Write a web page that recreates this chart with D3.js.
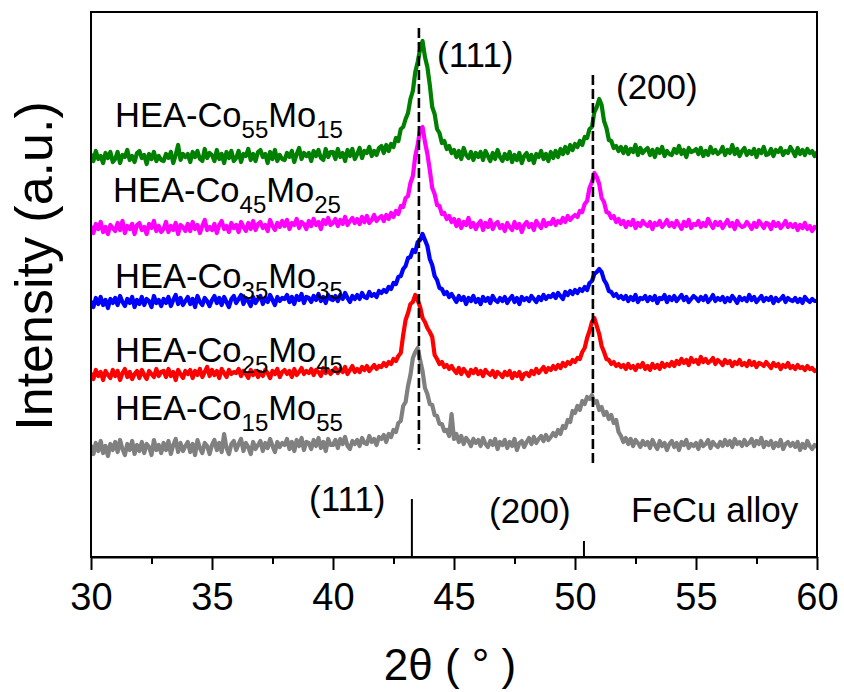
<!DOCTYPE html>
<html>
<head>
<meta charset="utf-8">
<script src="https://cdn.jsdelivr.net/npm/d3@7"></script>
<style>
  body { margin: 0; background: #fff; }
  text { font-family: "Liberation Sans", Arial, sans-serif; fill: #000; }
</style>
</head>
<body>
<div class="canvas"></div>
<script>
// scan grid (2theta, degrees)
const scanStart = 30
const scanStep = 0.1

// sample names (Co / Mo subscripts)
const samples = ['HEA-Co55Mo15', 'HEA-Co45Mo25', 'HEA-Co35Mo35', 'HEA-Co25Mo45', 'HEA-Co15Mo55']
const coSub = ['55', '45', '35', '25', '15']
const moSub = ['15', '25', '35', '45', '55']
const colors = ['#008000', '#ff00ff', '#0000ff', '#ff0000', '#808080']
// vertical stacking offsets (a.u.)
const offsets = [400, 329, 255, 182, 109]

// intensity above offset, one row per degree
const coMo5515 = [
  3,-4,6,-2,1,-6,4,-1,5,-5,
  -2,5,-6,2,0,7,-3,1,-5,4,
  6,-1,2,-7,3,-2,5,-4,1,-3,
  -4,3,-1,5,-6,2,12,-3,3,0,
  3,-5,5,0,6,-2,-4,8,-1,4,
  2,-4,7,-2,3,-6,5,-1,6,-4,
  -1,6,-5,3,1,8,-3,3,-4,5,
  7,0,3,-6,5,-2,7,-4,2,-2,
  -3,4,0,6,-5,3,9,-2,4,1,
  4,-4,6,1,7,-1,-3,8,0,5,
  5,-2,8,0,4,-4,7,1,8,-2,
  3,9,-1,6,4,10,1,6,2,9,
  11,4,12,6,13,10,19,16,28,30,
  38,44,58,66,85,95,108,116,100,90,
  72,50,43,28,24,14,16,8,11,4,
  7,0,6,-2,9,2,-1,5,-3,4,
  0,5,-3,6,1,-4,4,-2,7,0,
  -4,3,-2,5,-5,2,-3,4,-6,1,
  4,-3,2,-6,3,0,6,-2,3,-4,
  5,-1,6,0,8,3,10,4,12,7,
  13,10,16,12,20,19,28,30,45,50,
  58,52,36,29,17,16,9,11,6,10,
  4,10,3,8,5,12,2,9,4,7,
  9,2,7,0,8,4,10,1,6,3,
  2,8,4,11,3,7,0,9,5,6,
  8,3,9,1,6,2,10,4,7,3,
  5,10,2,7,4,12,3,8,1,6,
  9,2,6,3,8,0,7,4,10,2,
  3,8,1,7,5,9,2,6,4,10,
  6,1,9,3,7,2,8,4,6,1,
  5
]
const coMo4525 = [
  2,-5,4,-1,6,-4,1,-6,3,0,
  -3,5,-2,7,-5,2,-1,4,-6,3,
  5,-2,1,-6,4,0,7,-3,2,-4,
  -1,6,-4,2,-2,5,-6,3,1,-3,
  4,-3,6,-1,3,-5,2,8,-2,1,
  -2,4,-5,3,7,-1,2,-4,5,0,
  3,-4,6,1,-3,5,-1,7,-2,4,
  6,0,3,-3,8,2,-2,5,1,7,
  2,8,-1,5,3,9,0,6,4,-1,
  7,2,9,3,6,-1,8,4,10,3,
  5,9,2,8,4,11,3,7,10,5,
  9,4,11,6,12,5,8,13,7,10,
  12,7,13,9,15,11,17,14,22,21,
  30,32,45,52,72,83,99,101,86,74,
  58,40,34,23,22,14,15,9,12,6,
  9,2,8,0,6,3,10,1,5,-1,
  4,7,-2,5,1,8,-1,4,6,0,
  3,-3,5,1,-2,6,0,4,-4,3,
  6,1,4,-2,7,3,0,8,2,5,
  4,9,3,7,5,10,6,12,8,11,
  13,11,17,16,24,27,40,46,55,51,
  44,30,26,16,15,10,12,6,9,4,
  7,1,6,3,8,0,5,2,7,4,
  2,6,-1,5,3,7,1,4,8,2,
  5,1,7,3,-1,6,2,8,0,4,
  3,7,1,5,2,9,4,0,6,3,
  6,0,4,8,2,5,-1,7,3,1,
  2,6,3,-1,5,1,7,4,0,5,
  4,-1,6,2,5,0,3,7,1,4,
  1,4,-2,3,0,5,-1,2,-3,1,
  0
]
const coMo3535 = [
  1,-5,4,-2,5,-3,2,-6,3,-1,
  4,-3,6,0,-4,3,-1,5,-5,2,
  -2,5,-3,3,1,-5,6,-1,2,-4,
  3,-1,5,-4,2,7,-2,4,-3,1,
  5,-2,3,-5,6,0,-3,4,1,-4,
  2,6,-1,4,-3,5,0,-5,3,6,
  -1,3,7,-2,4,1,-4,5,-1,3,
  6,-2,4,0,7,2,-3,5,1,4,
  3,7,0,5,-2,6,2,8,-1,5,
  4,0,6,2,8,1,5,-1,7,3,
  2,6,1,7,3,9,4,0,6,3,
  7,3,9,5,4,10,6,8,5,11,
  9,12,10,15,13,19,18,25,26,33,
  36,44,45,52,50,60,62,68,62,56,
  43,37,26,22,14,13,8,10,5,8,
  4,0,6,2,5,-2,4,1,6,0,
  3,-2,5,1,4,-1,6,2,0,4,
  1,5,-1,3,6,0,4,-2,5,2,
  4,1,6,3,0,5,2,7,3,6,
  5,8,4,9,6,3,10,7,11,8,
  12,9,13,11,15,12,19,21,28,30,
  33,30,22,18,11,10,6,8,4,6,
  3,6,1,5,2,7,0,4,3,6,
  1,5,2,6,-1,4,3,7,0,5,
  2,6,1,4,7,2,5,0,3,6,
  4,1,5,2,6,0,3,7,1,4,
  2,5,0,4,1,6,3,-1,5,2,
  4,1,7,2,5,0,3,6,1,4,
  2,5,-1,4,1,3,6,0,4,2,
  1,4,0,3,-1,5,2,0,3,1,
  1
]
const coMo2545 = [
  2,-4,5,-1,3,-5,4,0,-3,5,
  -1,4,-5,2,6,-2,3,-4,1,4,
  -3,5,0,-4,4,1,-2,6,-1,3,
  4,-2,6,-1,3,-5,5,1,-3,4,
  1,5,-3,4,0,6,-2,3,8,-1,
  5,0,4,-3,6,2,-2,5,1,3,
  2,6,-1,4,1,-3,5,0,4,-2,
  3,-1,5,2,-3,4,1,6,-2,3,
  5,1,4,-2,6,0,3,7,1,4,
  2,6,0,5,3,-1,7,2,5,1,
  4,7,2,6,3,8,1,5,9,3,
  6,3,8,5,9,4,7,10,6,9,
  8,12,9,13,11,16,14,19,22,40,
  55,62,71,73,80,75,68,57,53,47,
  43,38,20,16,11,13,8,10,6,9,
  5,2,7,1,6,3,-1,5,2,6,
  1,4,-1,5,2,0,4,-2,3,1,
  -2,3,0,4,-3,2,-1,3,-4,1,
  2,-1,4,1,6,2,5,8,3,7,
  5,9,6,10,7,12,9,13,11,15,
  13,17,16,23,27,37,44,53,57,49,
  41,29,23,16,15,11,13,9,11,8,
  10,6,11,7,9,5,10,8,12,6,
  9,5,11,7,10,6,12,8,11,9,
  13,9,14,11,16,12,15,10,17,13,
  15,11,18,13,16,12,14,17,11,15,
  13,10,15,12,14,9,13,11,15,10,
  12,9,14,10,13,8,12,11,9,13,
  10,7,12,9,11,6,10,8,12,7,
  9,6,10,7,8,5,9,6,7,4,
  5
]
const coMo1555 = [
  3,-6,5,-3,7,-5,2,-8,4,-2,
  6,-4,8,-1,-7,4,-2,7,-6,3,
  -3,6,-5,4,1,-7,8,-2,3,-5,
  5,-2,7,-6,3,9,-4,5,-3,2,
  6,-4,4,-7,8,0,-5,5,2,-6,
  3,8,-2,5,-4,14,0,-6,4,7,
  -2,4,9,-3,5,1,-6,6,-1,3,
  7,-3,5,0,9,2,-4,6,1,5,
  3,9,-1,6,-3,8,2,10,-2,6,
  5,-1,8,2,10,0,6,-3,9,3,
  3,8,0,9,4,11,2,-1,7,4,
  8,2,10,5,4,12,6,9,3,11,
  9,13,6,14,11,18,16,25,27,42,
  46,62,73,90,96,100,88,77,60,54,
  44,43,33,32,24,24,17,18,12,34,
  9,14,6,12,4,10,7,2,9,5,
  8,2,10,4,1,7,3,9,-1,6,
  3,8,0,6,2,9,-2,5,7,1,
  6,10,4,11,5,9,12,7,13,8,
  11,15,12,18,14,22,20,28,26,37,
  35,42,38,47,44,51,49,53,45,47,
  38,41,33,36,29,33,25,28,16,12,
  6,10,4,9,2,8,5,1,7,3,
  6,0,8,3,-1,7,2,5,-2,4,
  7,1,5,-2,6,3,8,0,4,2,
  5,-1,7,2,4,8,0,6,3,1,
  6,2,8,3,7,1,9,4,6,2,
  8,3,5,9,2,7,4,10,1,6,
  3,7,0,5,2,8,-1,4,6,2,
  5,1,6,-2,4,0,7,2,-1,3,
  1
]
const series = [coMo5515, coMo4525, coMo3535, coMo2545, coMo1555]

// guide lines at HEA peaks
const peakPos = [43.55, 50.74]
const peakLineTop = [529, 482]
const peakLineBottom = [107, 90]
// FeCu alloy reference sticks
const fecuPos = [43.26, 50.37]
const fecuHeight = [58, 16]

const xTicks = [30, 35, 40, 45, 50, 55, 60]
const xMinor = [32.5, 37.5, 42.5, 47.5, 52.5, 57.5]

const width = 844
const height = 692
const margin = { top: 12, right: 27, bottom: 135, left: 91 }
const graphWidth = width - margin.left - margin.right
const graphHeight = height - margin.top - margin.bottom

const svg = d3.select('.canvas')
    .append('svg')
    .attr('width', width)
    .attr('height', height)

const graph = svg.append('g')
    .attr('transform', `translate(${margin.left},${margin.top})`)

const x = d3.scaleLinear().domain([30, 60]).range([0, graphWidth])
const y = d3.scaleLinear().domain([0, 545]).range([graphHeight, 0])

const line = d3.line()
    .x((d, i) => x(scanStart + i * scanStep))

// clip so thick strokes stay inside the frame
svg.append('clipPath').attr('id', 'plot')
    .append('rect')
    .attr('width', graphWidth)
    .attr('height', graphHeight)

const traces = graph.append('g').attr('clip-path', 'url(#plot)')

series.forEach((vals, k) => {
    traces.append('path')
        .datum(vals)
        .attr('fill', 'none')
        .attr('stroke', colors[k])
        .attr('stroke-width', 4.2)
        .attr('stroke-linejoin', 'round')
        .attr('d', line.y(d => y(d + offsets[k])))
})

// dashed guides
graph.selectAll('.guide')
    .data(peakPos)
    .enter()
    .append('line')
    .attr('x1', d => x(d))
    .attr('x2', d => x(d))
    .attr('y1', (d, i) => y(peakLineTop[i]))
    .attr('y2', (d, i) => y(peakLineBottom[i]))
    .attr('stroke', '#000')
    .attr('stroke-width', 2.6)
    .attr('stroke-dasharray', '10,4')

// FeCu sticks
graph.selectAll('.stick')
    .data(fecuPos)
    .enter()
    .append('line')
    .attr('x1', d => x(d))
    .attr('x2', d => x(d))
    .attr('y1', y(0))
    .attr('y2', (d, i) => y(fecuHeight[i]))
    .attr('stroke', '#000')
    .attr('stroke-width', 2)

// frame
graph.append('rect')
    .attr('width', graphWidth)
    .attr('height', graphHeight)
    .attr('fill', 'none')
    .attr('stroke', '#000')
    .attr('stroke-width', 2)

// axes
const xAxisGroup = graph.append('g')
    .attr('transform', `translate(0,${graphHeight})`)
    .call(d3.axisBottom(x).tickValues(xTicks).tickSize(13).tickPadding(13).tickSizeOuter(0))
xAxisGroup.select('.domain').attr('stroke-width', 2)
xAxisGroup.selectAll('.tick line').attr('stroke-width', 2)
xAxisGroup.selectAll('text')
    .attr('font-size', 38)
    .attr('font-family', '"Liberation Sans", Arial, sans-serif')
    .attr('fill', '#000')

const minorGroup = graph.append('g')
    .attr('transform', `translate(0,${graphHeight})`)
    .call(d3.axisBottom(x).tickValues(xMinor).tickSize(7).tickFormat('').tickSizeOuter(0))
minorGroup.select('.domain').remove()
minorGroup.selectAll('.tick line').attr('stroke-width', 2)

// axis titles
svg.append('text')
    .attr('x', 450)
    .attr('y', 680)
    .attr('text-anchor', 'middle')
    .attr('font-size', 44)
    .text('2θ ( ° )')

svg.append('text')
    .attr('transform', 'translate(52,266) rotate(-90)')
    .attr('text-anchor', 'middle')
    .attr('font-size', 52)
    .text('Intensity (a.u.)')

// sample labels
const labelY = [127, 202, 288, 362, 420]
const labelX = [115, 113, 115, 115, 115]
samples.forEach((s, k) => {
    const t = svg.append('text')
        .attr('x', labelX[k])
        .attr('y', labelY[k])
        .attr('font-size', 34.5)
    t.append('tspan').text('HEA-Co')
    t.append('tspan').attr('font-size', 24).attr('dy', 11).text(coSub[k])
    t.append('tspan').attr('dy', -11).text('Mo')
    t.append('tspan').attr('font-size', 24).attr('dy', 11).text(moSub[k])
})

// peak labels
const peakLabels = [
    { t: '(111)', x: 437, y: 67 },
    { t: '(200)', x: 616, y: 99 },
    { t: '(111)', x: 309, y: 511 },
    { t: '(200)', x: 489, y: 523 },
    { t: 'FeCu alloy', x: 631, y: 522 }
]
svg.selectAll('.plabel')
    .data(peakLabels)
    .enter()
    .append('text')
    .attr('x', d => d.x)
    .attr('y', d => d.y)
    .attr('font-size', 35)
    .text(d => d.t)
</script>
</body>
</html>
